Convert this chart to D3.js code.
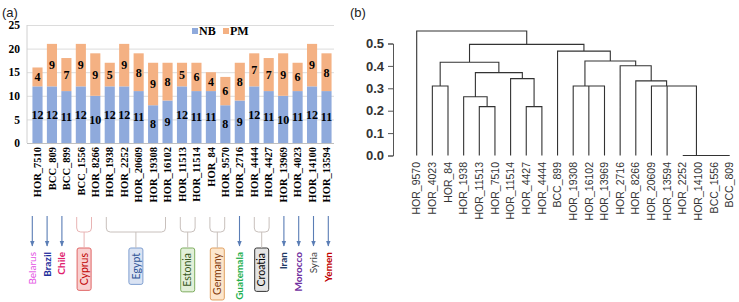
<!DOCTYPE html>
<html><head><meta charset="utf-8">
<script src="https://cdn.jsdelivr.net/npm/d3@7"></script>
<style>body{margin:0;background:#fff}svg{display:block}</style>
</head><body><svg id="c" width="739" height="302"></svg>
<script>
// ---------- data: panel (a) ----------
const categories = ["HOR_7510","BCC_809","BCC_899","BCC_1556","HOR_8266","HOR_1938","HOR_2252","HOR_20609","HOR_19308","HOR_16102","HOR_11513","HOR_11514","HOR_84","HOR_9570","HOR_2716","HOR_4444","HOR_4427","HOR_13969","HOR_4023","HOR_14100","HOR_13594"];
const nbValues = [12,12,11,12,10,12,12,11,8,9,12,11,11,8,9,12,11,10,11,12,11];
const pmValues = [4,9,7,9,9,5,9,8,9,8,5,6,4,6,8,7,7,9,6,9,8];
const seriesNames = ["NB","PM"];
const yTicksA = [0,5,10,15,20,25];
const countryNames = ["Belarus","Brazil","Chile","Cyprus","Egypt","Estonia","Germany","Guatemala","Croatia","Iran","Morocco","Syria","Yemen"];
const countryMembers = [["HOR_7510"],["BCC_809"],["BCC_899"],["BCC_1556","HOR_8266"],["HOR_1938","HOR_2252","HOR_20609","HOR_19308","HOR_16102"],["HOR_11513","HOR_11514"],["HOR_84","HOR_9570"],["HOR_2716"],["HOR_4444","HOR_4427"],["HOR_13969"],["HOR_4023"],["HOR_14100"],["HOR_13594"]];

// ---------- data: panel (b) ----------
const dendroLeaves = ["HOR_9570","HOR_4023","HOR_84","HOR_1938","HOR_11513","HOR_7510","HOR_11514","HOR_4427","HOR_4444","BCC_899","HOR_19308","HOR_16102","HOR_13969","HOR_2716","HOR_8266","HOR_20609","HOR_13594","HOR_2252","HOR_14100","BCC_1556","BCC_809"];
// hclust-style merges: negative = leaf (1-based), positive = earlier merge (1-based)
const mergeLeft  = [-20,-19,-18,-5,-8,-4,-2,-12,-11,-17,-16,-15,-7, 6,-14, 7, 9,-10,16,-1];
const mergeRight = [-21,  1,  2,-6,-9, 4,-3,-13,  8,  3, 10, 11, 5,13, 12,14,15, 17,18,19];
const mergeHeight= [0,0,0,0.218,0.218,0.2625,0.31,0.31,0.31,0.31,0.31,0.333,0.343,0.37,0.401,0.416,0.422,0.466,0.496,0.556];
const yTicksB = [0,0.1,0.2,0.3,0.4,0.5];

// ---------- styles ----------
const serif = "'Liberation Serif','Times New Roman',serif";
const sans = "'Liberation Sans',Arial,sans-serif";
const calib = "Lato,'Open Sans',sans-serif";
const seriesColor = {NB:"#8faadc", PM:"#f4b183"};
const countryStyle = {
  Belarus:{c:"#e34fe3",w:400}, Brazil:{c:"#1f2f9c",w:700}, Chile:{c:"#e0206e",w:700},
  Cyprus:{c:"#c00000",w:400,fill:"#f9d0d0",stroke:"#e06666",br:"#e8b4b4"},
  Egypt:{c:"#2f5597",w:400,fill:"#dae3f3",stroke:"#7f9fd0",br:"#c8c0bc"},
  Estonia:{c:"#385723",w:400,fill:"#e2f0d9",stroke:"#7fae60",br:"#c8c0bc"},
  Germany:{c:"#843c0c",w:400,fill:"#fde6cc",stroke:"#e0a060",br:"#c8c0bc"},
  Guatemala:{c:"#1fb050",w:700}, Croatia:{c:"#000",w:400,fill:"#e4e4e4",stroke:"#333",br:"#c8c0bc"},
  Iran:{c:"#1f3864",w:700}, Morocco:{c:"#7030a0",w:700}, Syria:{c:"#404040",w:400}, Yemen:{c:"#c00000",w:700}
};

const svg = d3.select("#c");
svg.append("rect").attr("width",739).attr("height",302).attr("fill","#fff");

// ================= Panel (a) =================
svg.append("text").attr("x",2).attr("y",17).attr("font-family",sans).attr("font-size",13).attr("fill","#222").text("(a)");

const xA = d3.scaleBand().domain(categories).range([30.275,333.725]).paddingInner(0.3).paddingOuter(0.15);
const yA = d3.scaleLinear().domain([0,25]).range([143,25]);
const gA = svg.append("g");

// gridlines
gA.append("g").attr("transform","translate(27,0)")
  .call(d3.axisLeft(yA).tickValues(yTicksA).tickSize(-307).tickFormat(""))
  .call(g=>{g.select(".domain").remove(); g.selectAll("line").attr("stroke",(d)=>d===0?"#bfbfbf":"#dcdcdc");});
gA.append("line").attr("x1",27).attr("x2",27).attr("y1",yA(25)).attr("y2",yA(0)).attr("stroke","#d0d0d0");

// y tick labels
gA.append("g").attr("transform","translate(20,0)")
  .call(d3.axisLeft(yA).tickValues(yTicksA).tickSize(0).tickPadding(0))
  .call(g=>{g.select(".domain").remove(); g.selectAll("text").attr("font-family",serif).attr("font-weight","bold").attr("font-size",11.5).attr("fill","#000");});

// stacked bars
const rows = categories.map((c,i)=>({cat:c, NB:nbValues[i], PM:pmValues[i]}));
const stacked = d3.stack().keys(seriesNames)(rows);
const layers = gA.selectAll("g.layer").data(stacked).join("g").attr("class","layer").attr("fill",d=>seriesColor[d.key]);
layers.selectAll("rect").data(d=>d).join("rect")
  .attr("x",d=>xA(d.data.cat)).attr("width",xA.bandwidth())
  .attr("y",d=>yA(d[1])).attr("height",d=>yA(d[0])-yA(d[1]));
layers.selectAll("text").data(d=>d).join("text")
  .attr("x",d=>xA(d.data.cat)+xA.bandwidth()/2).attr("y",d=>yA((d[0]+d[1])/2)).attr("dy","0.36em")
  .attr("text-anchor","middle").attr("font-family",serif).attr("font-weight","bold").attr("font-size",12).attr("fill","#000")
  .text(d=>d[1]-d[0]);

// x labels
gA.append("g").attr("transform","translate(0,147)")
  .call(d3.axisBottom(xA).tickSize(0).tickPadding(0))
  .call(g=>{g.select(".domain").remove();
    g.selectAll("text").attr("transform","rotate(-90)").attr("text-anchor","end").attr("x",0).attr("y",0).attr("dy","0.35em")
     .attr("font-family",serif).attr("font-weight","bold").attr("font-size",10.5).attr("fill","#000");});

// legend
const leg = gA.append("g");
seriesNames.forEach((s,i)=>{
  const lx = 192 + i*31;
  leg.append("rect").attr("x",lx).attr("y",28).attr("width",6).attr("height",6).attr("fill",seriesColor[s]);
  leg.append("text").attr("x",lx+7).attr("y",34.5).attr("font-family",serif).attr("font-weight","bold").attr("font-size",12).attr("fill","#000").text(s);
});

// country annotations
const xAnn = d3.scalePoint().domain(categories).range([32.3,328.3]);
const defs = svg.append("defs");
defs.append("marker").attr("id","ah").attr("viewBox","0 0 10 10").attr("refX",9).attr("refY",5)
  .attr("markerWidth",5).attr("markerHeight",5).attr("orient","auto")
  .append("path").attr("d","M0,1 L10,5 L0,9 z").attr("fill","#5a7db5");
const gC = svg.append("g");
countryNames.forEach((name,i)=>{
  const mem = countryMembers[i];
  const st = countryStyle[name];
  const xs = mem.map(m=>xAnn(m));
  const x1 = d3.min(xs), x2 = d3.max(xs), xc = (x1+x2)/2;
  if (mem.length===1){
    gC.append("line").attr("x1",xc).attr("x2",xc).attr("y1",216).attr("y2",246)
      .attr("stroke","#5a7db5").attr("stroke-width",1.1).attr("marker-end","url(#ah)");
    gC.append("text").attr("transform",`translate(${xc},252) rotate(-90)`).attr("text-anchor","end").attr("dy","0.35em")
      .attr("font-family",calib).attr("font-size",10).attr("font-weight",st.w).attr("fill",st.c).text(name);
  } else {
    gC.append("path").attr("d",`M${x1},217 V228 Q${x1},232 ${x1+4},232 H${x2-4} Q${x2},232 ${x2},228 V217 M${xc},232 V248`)
      .attr("fill","none").attr("stroke",st.br).attr("stroke-width",1);
    const t = gC.append("text").attr("transform",`translate(${xc},253) rotate(-90)`).attr("text-anchor","end").attr("dy","0.35em")
      .attr("font-family",calib).attr("font-size",10.5).attr("font-weight",st.w).attr("fill",st.c).text(name);
    const len = t.node().getComputedTextLength();
    gC.insert("rect","text").attr("x",xc-7).attr("y",248).attr("width",14).attr("height",len+10).attr("rx",2)
      .attr("fill",st.fill).attr("stroke",st.stroke).attr("stroke-width",1);
  }
});

// ================= Panel (b) =================
svg.append("text").attr("x",350).attr("y",17).attr("font-family",sans).attr("font-size",13).attr("fill","#222").text("(b)");
const xB = d3.scalePoint().domain(dendroLeaves).range([416.7,729.7]);
const yB = d3.scaleLinear().domain([0,0.5]).range([155.5,43.5]);
const gB = svg.append("g");

gB.append("g").attr("transform","translate(393,0)")
  .call(d3.axisLeft(yB).tickValues(yTicksB).tickSize(5).tickPadding(4).tickFormat(d3.format(".1f")))
  .call(g=>{g.select(".domain").attr("stroke","#555"); g.selectAll("line").attr("stroke","#555");
    g.selectAll("text").attr("font-family",sans).attr("font-weight","bold").attr("font-size",13).attr("fill","#333");});

// compute node positions
const nodeX = [], nodeH = [];
function px(ref){ return ref<0 ? xB(dendroLeaves[-ref-1]) : nodeX[ref-1]; }
function ph(ref){ return ref<0 ? 0 : nodeH[ref-1]; }
const dPath = d3.path();
mergeHeight.forEach((h,i)=>{
  const a = mergeLeft[i], b = mergeRight[i];
  const xa = px(a), xb = px(b);
  dPath.moveTo(xa, yB(ph(a))); dPath.lineTo(xa, yB(h)); dPath.lineTo(xb, yB(h)); dPath.lineTo(xb, yB(ph(b)));
  nodeX.push((xa+xb)/2); nodeH.push(h);
});
gB.append("path").attr("d",dPath.toString()).attr("fill","none").attr("stroke","#333").attr("stroke-width",1.1);

gB.selectAll("text.leaf").data(dendroLeaves).join("text").attr("class","leaf")
  .attr("transform",d=>`translate(${xB(d)},162) rotate(-90)`).attr("text-anchor","end").attr("dy","0.35em")
  .attr("font-family",sans).attr("font-size",10.5).attr("fill","#333").text(d=>d);
</script></body></html>
